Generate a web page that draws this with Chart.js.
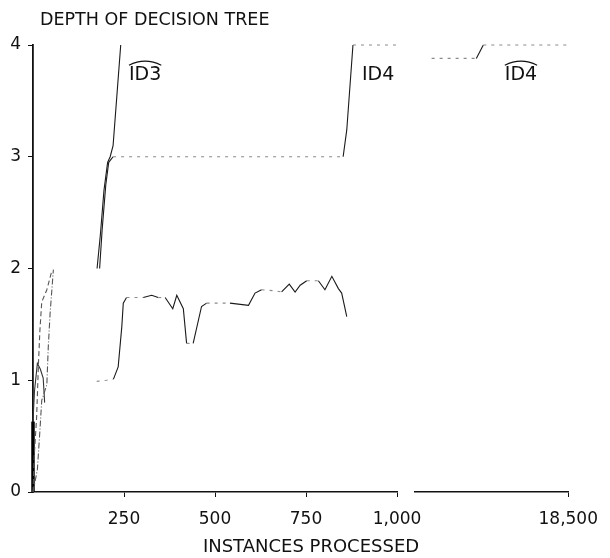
<!DOCTYPE html>
<html><head><meta charset="utf-8">
<script src="https://cdn.jsdelivr.net/npm/chart.js@4.4.1/dist/chart.umd.min.js"></script>
<style>
html,body{margin:0;padding:0;background:#fff;}
#wrap{position:relative;width:610px;height:558px;background:#fff;}
#wrap canvas{position:absolute;left:0;top:0;}
</style></head><body>
<div id="wrap"><canvas id="leftChart" width="610" height="558"></canvas><canvas id="rightChart" width="610" height="558"></canvas></div>
<script>
// ---- tick labels ----
const yTicks = [0, 1, 2, 3, 4];
const xTicksLeft = [250, 500, 750, 1000];
const xTicksRight = [18500];

// ---- early fragments (first ~60 instances) ----
const id3hatEarlyX = [0, 3, 10, 15, 19, 24, 38, 51];
const id3hatEarlyY = [0, 0.3, 0.67, 1.15, 1.45, 1.70, 1.81, 1.97];
const id4EarlyX = [0, 12, 19, 24, 38, 42, 47, 56];
const id4EarlyY = [0, 0.2, 0.55, 0.82, 0.96, 1.3, 1.6, 1.99];
const id4hatEarlyX = [0, 0, 4, 12, 20, 28, 32];
const id4hatEarlyY = [0, 0.63, 0.9, 1.15, 1.1, 1.02, 0.8];

// ---- main curves (0 - 1,000 instances) ----
const id3hatX = [176, 185, 195, 205, 212, 220, 241];
const id3hatY = [2.0, 2.3, 2.7, 2.95, 3.0, 3.1, 4.0];
const id4X = [183, 190, 200, 208, 220, 480, 852, 862, 879, 1000];
const id4Y = [2.0, 2.35, 2.75, 2.95, 3.0, 3.0, 3.0, 3.24, 4.0, 4.0];
const id4hatX = [175, 202, 221, 234, 244, 248, 257, 303, 326, 344, 363, 384, 395, 413, 422, 440, 463, 477, 541, 592, 610, 628, 665, 683, 704, 720, 734, 752, 784, 802, 821, 839, 848, 862];
const id4hatY = [0.99, 1.0, 1.01, 1.12, 1.48, 1.69, 1.74, 1.74, 1.76, 1.74, 1.74, 1.64, 1.76, 1.64, 1.33, 1.33, 1.66, 1.69, 1.69, 1.67, 1.78, 1.81, 1.80, 1.79, 1.86, 1.79, 1.85, 1.89, 1.89, 1.81, 1.93, 1.82, 1.78, 1.57];

// ---- after the axis break (1,000 - 18,500 instances) ----
const id4hatLateX = [2900, 8000, 8800, 18500];
const id4hatLateY = [3.88, 3.88, 4.0, 4.0];

const FONT = '"DejaVu Sans", sans-serif';
const pts = (xs, ys) => xs.map((x, i) => ({x: x, y: ys[i]}));
const flat = ctx => Math.abs(ctx.p0.parsed.y - ctx.p1.parsed.y) < 0.015;
const vertical = ctx => ctx.p0.parsed.x === ctx.p1.parsed.x;
const lineDS = (label, data, extra) => Object.assign({
  label: label, data: data, borderColor: '#1a1a1a', borderWidth: 1.1,
  pointRadius: 0, tension: 0, fill: false, clip: 6,
  segment: {
    borderDash: ctx => flat(ctx) ? [3, 5] : undefined,
    borderColor: ctx => flat(ctx) ? '#8a8a8a' : (vertical(ctx) ? '#000' : undefined),
    borderWidth: ctx => vertical(ctx) ? 3.5 : undefined
  }
}, extra || {});

function labelPlugin(items, extraText) {
  return {
    id: 'labels',
    afterDatasetsDraw(chart) {
      const c = chart.ctx, xs = chart.scales.x, ys = chart.scales.y;
      c.save();
      c.fillStyle = '#111'; c.strokeStyle = '#111';
      c.font = '19px ' + FONT;
      c.textAlign = 'center'; c.textBaseline = 'middle';
      items.forEach(it => {
        const px = xs.getPixelForValue(it.x), py = ys.getPixelForValue(it.y);
        c.fillText(it.text, px, py);
        if (it.hat) {
          const w = c.measureText(it.text).width;
          c.lineWidth = 1.1;
          c.beginPath();
          c.moveTo(px - w / 2, py - 10);
          c.quadraticCurveTo(px, py - 18, px + w / 2, py - 10);
          c.stroke();
        }
      });
      if (extraText) extraText(c);
      c.restore();
    }
  };
}

const commonX = (min, max, ticks) => ({
  type: 'linear', min: min, max: max,
  afterBuildTicks: s => { s.ticks = ticks.map(v => ({value: v})); },
  afterFit: s => { s.height = 66; },
  ticks: {color: '#111', font: {family: FONT, size: 17}, padding: 12,
          callback: v => v.toLocaleString('en-US'), maxRotation: 0, autoSkip: false},
  grid: {drawOnChartArea: false, drawTicks: true, tickLength: 5, color: '#111', lineWidth: 1},
  border: {display: true, color: '#111', width: 1.6}
});

new Chart(document.getElementById('leftChart'), {
  type: 'line',
  data: {datasets: [
    lineDS('ID3-hat (early)', pts(id3hatEarlyX, id3hatEarlyY), {borderDash: [5, 3], borderColor: '#555'}),
    lineDS('ID4 (early)', pts(id4EarlyX, id4EarlyY), {borderDash: [6, 2, 1, 2], borderColor: '#555'}),
    lineDS('ID4-hat (early)', pts(id4hatEarlyX, id4hatEarlyY), {borderColor: '#333'}),
    lineDS('ID3-hat', pts(id3hatX, id3hatY)),
    lineDS('ID4', pts(id4X, id4Y)),
    lineDS('ID4-hat', pts(id4hatX, id4hatY))
  ]},
  options: {
    responsive: false, animation: false, parsing: true,
    layout: {padding: {left: 0, right: 213, top: 45, bottom: 0}},
    plugins: {legend: {display: false}, tooltip: {enabled: false}, title: {display: false}},
    scales: {
      x: commonX(0, 1000, xTicksLeft),
      y: {
        type: 'linear', min: 0, max: 4,
        afterBuildTicks: s => { s.ticks = yTicks.map(v => ({value: v})); },
        afterFit: s => { s.width = 33; },
        ticks: {color: '#111', font: {family: FONT, size: 17}, padding: 7},
        grid: {drawOnChartArea: false, drawTicks: true, tickLength: 5, color: '#111', lineWidth: 1},
        border: {display: true, color: '#111', width: 1.8}
      }
    }
  },
  plugins: [labelPlugin(
    [{text: 'ID3', x: 308, y: 3.73, hat: true}, {text: 'ID4', x: 948, y: 3.73, hat: false}],
    c => {
      c.font = '17.5px ' + FONT;
      c.textAlign = 'left'; c.textBaseline = 'middle';
      c.fillText('DEPTH OF DECISION TREE', 40, 20);
      c.textAlign = 'center';
      c.font = '18px ' + FONT;
      c.fillText('INSTANCES PROCESSED', 311, 547);
    }
  )]
});

new Chart(document.getElementById('rightChart'), {
  type: 'line',
  data: {datasets: [
    lineDS('ID4-hat', pts(id4hatLateX, id4hatLateY))
  ]},
  options: {
    responsive: false, animation: false,
    layout: {padding: {left: 415, right: 33, top: 45, bottom: 0}},
    plugins: {legend: {display: false}, tooltip: {enabled: false}},
    scales: {
      x: commonX(1000, 18500, xTicksRight),
      y: {type: 'linear', min: 0, max: 4, display: false}
    }
  },
  plugins: [labelPlugin([{text: 'ID4', x: 13100, y: 3.73, hat: true}])]
});
</script>
</body></html>
